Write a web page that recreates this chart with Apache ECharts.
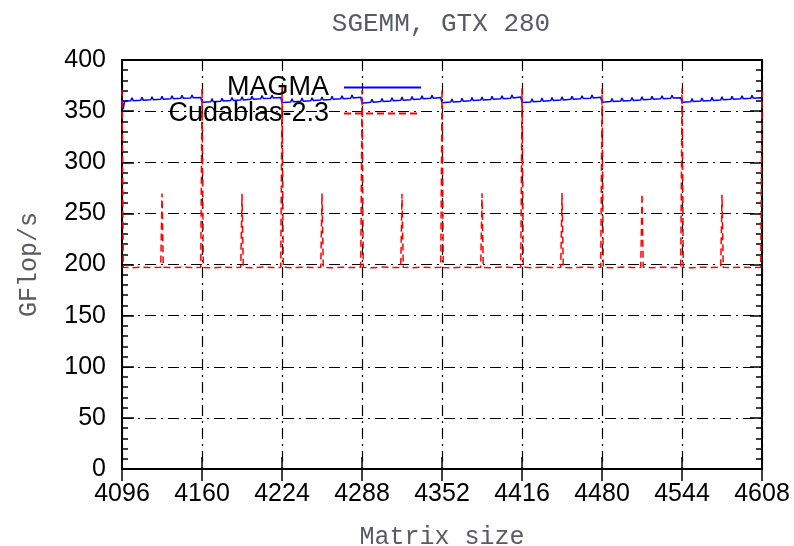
<!DOCTYPE html>
<html>
<head>
<meta charset="utf-8">
<title>SGEMM, GTX 280</title>
<script src="https://cdn.jsdelivr.net/npm/echarts@6/dist/echarts.min.js"></script>
<style>
html,body{margin:0;padding:0;background:#fff;}
#chart{width:794px;height:546px;}
</style>
</head>
<body>
<div id="chart"></div>
<script>
// 数据
var seriesNames = ['MAGMA', 'Cudablas-2.3'];
var xTicks = [4096, 4160, 4224, 4288, 4352, 4416, 4480, 4544, 4608];
var yTicks = [0, 50, 100, 150, 200, 250, 300, 350, 400];

// MAGMA: [matrix size, GFlop/s]
var magmaPts = [
	[4096,361],[4097,352],[4098,359.6],
	[4103,360.1],[4104,363.1],[4105,360.2],[4111,360.6],[4112,363.4],[4113,360.7],
	[4119,361.1],[4120,364.1],[4121,361.2],[4127,361.6],[4128,364.6],[4129,361.7],
	[4135,362.1],[4136,364.9],[4137,362.2],[4143,362.5],[4144,365.5],[4145,362.6],
	[4151,362.9],[4152,365.8],[4153,363],[4159,363.4],
	[4160,358.6],[4167,359.1],[4168,362.2],[4169,359.2],[4175,359.7],[4176,362.6],[4177,359.8],
	[4183,360.3],[4184,363.4],[4185,360.4],[4191,360.9],[4192,364],[4193,361],
	[4199,361.5],[4200,364.4],[4201,361.7],[4207,362.1],[4208,365.2],[4209,362.3],
	[4215,362.7],[4216,365.6],[4217,362.9],[4223,363.4],
	[4224,358.4],[4231,359],[4232,362.1],[4233,359.1],[4239,359.6],[4240,362.7],[4241,359.7],
	[4247,360.2],[4248,363.1],[4249,360.3],[4255,360.8],[4256,363.9],[4257,360.9],
	[4263,361.4],[4264,364.5],[4265,361.6],[4271,362],[4272,365],[4273,362.2],
	[4279,362.6],[4280,365.7],[4281,362.8],[4287,363.5],
	[4288,357.8],[4295,358.6],[4296,361.7],[4297,358.7],[4303,359.3],[4304,362.3],[4305,359.4],
	[4311,360],[4312,363],[4313,360.1],[4319,360.6],[4320,363.7],[4321,360.7],
	[4327,361.2],[4328,364.2],[4329,361.4],[4335,361.9],[4336,364.9],[4337,362],
	[4343,362.5],[4344,365.5],[4345,362.7],[4351,363.3],
	[4352,358.2],[4359,358.9],[4360,361.9],[4361,359],[4367,359.5],[4368,362.6],[4369,359.6],
	[4375,360.2],[4376,363.2],[4377,360.3],[4383,360.8],[4384,363.8],[4385,360.9],
	[4391,361.4],[4392,364.4],[4393,361.6],[4399,362],[4400,365.1],[4401,362.2],
	[4407,362.7],[4408,365.8],[4409,362.9],[4415,363.8],
	[4416,358.4],[4423,359],[4424,362],[4425,359.1],[4431,359.6],[4432,362.7],[4433,359.7],
	[4439,360.3],[4440,363.3],[4441,360.4],[4447,360.9],[4448,363.9],[4449,361],
	[4455,361.5],[4456,364.6],[4457,361.7],[4463,362.1],[4464,365.1],[4465,362.3],
	[4471,362.7],[4472,365.7],[4473,362.9],[4479,363.5],
	[4480,358.7],[4487,359.3],[4488,362.2],[4489,359.4],[4495,359.8],[4496,362.8],[4497,359.9],
	[4503,360.4],[4504,363.4],[4505,360.5],[4511,361],[4512,364],[4513,361.1],
	[4519,361.5],[4520,364.5],[4521,361.7],[4527,362.1],[4528,365],[4529,362.2],
	[4535,362.6],[4536,365.5],[4537,362.8],[4543,363.2],
	[4544,358.6],[4551,359.2],[4552,362.2],[4553,359.3],[4559,359.8],[4560,362.8],[4561,359.9],
	[4567,360.4],[4568,363.5],[4569,360.5],[4575,361],[4576,364],[4577,361.1],
	[4583,361.5],[4584,364.5],[4585,361.7],[4591,362],[4592,365],[4593,362.2],
	[4599,362.5],[4600,365.4],[4601,362.6],[4607,363],[4608,362.8]
];

// Cudablas-2.3: [matrix size, GFlop/s]
var cublasPts = [
	[4096,371],[4097,197.2],[4104,196.8],[4112,197.5],[4120,197],[4127,197.3],
	[4128,269.5],[4129,197.4],[4136,196.9],[4144,197.4],[4152,197],[4159,197.2],
	[4160,372.5],[4161,197.1],[4168,196.8],[4176,197.4],[4184,197],[4191,197.3],
	[4192,269.2],[4193,197.2],[4200,196.9],[4208,197.5],[4216,197.1],[4223,197.2],
	[4224,373],[4225,197.3],[4232,196.8],[4240,197.4],[4248,197],[4255,197.2],
	[4256,269.4],[4257,197.1],[4264,196.9],[4272,197.4],[4280,197],[4287,197.3],
	[4288,370.5],[4289,197.2],[4296,196.8],[4304,197.5],[4312,197.1],[4319,197.2],
	[4320,269.3],[4321,197.3],[4328,196.9],[4336,197.4],[4344,197],[4351,197.2],
	[4352,372],[4353,197.1],[4360,196.8],[4368,197.4],[4376,197],[4383,197.3],
	[4384,269.6],[4385,197.2],[4392,196.9],[4400,197.5],[4408,197.1],[4415,197.2],
	[4416,372.3],[4417,197.3],[4424,196.8],[4432,197.4],[4440,197],[4447,197.2],
	[4448,269.8],[4449,197.1],[4456,196.9],[4464,197.4],[4472,197],[4479,197.3],
	[4480,372],[4481,197.2],[4488,196.8],[4496,197.5],[4504,197.1],[4511,197.2],
	[4512,269.2],[4513,197.3],[4520,196.9],[4528,197.4],[4536,197],[4543,197.2],
	[4544,372.4],[4545,197.1],[4552,196.8],[4560,197.4],[4568,197],[4575,197.3],
	[4576,268.2],[4577,197.2],[4584,196.9],[4592,197.4],[4600,197],[4607,197.2],
	[4608,370]
];

var tickFont = "'Liberation Sans', Arial, sans-serif";
var monoFont = "'Liberation Mono', 'DejaVu Sans Mono', monospace";
// 点划线网格
var gridLine = {color:'#000', width:1.2, type:[11,5,2,5]};

// 图例: 文字在左, 线在右
function legendItem(name, top){
	return {
		data:[name],
		orient:'vertical',
		right:367,
		top:top,
		align:'right',
		itemWidth:77,
		itemHeight:14,
		selectedMode:false,
		itemStyle:{opacity:0},
		textStyle:{fontFamily:tickFont, fontSize:27, color:'#000', padding:[0,10,0,0]}
	};
}

var myChart = echarts.init(document.getElementById('chart'));
var option = {
	backgroundColor:'#fff',
	animation:false,
	title:{
		text:'SGEMM, GTX 280',
		left:436,
		textAlign:'center',
		top:6,
		textStyle:{fontFamily:monoFont, fontSize:26, fontWeight:'normal', color:'#595a66'}
	},
	legend:[legendItem(seriesNames[0], 69), legendItem(seriesNames[1], 95)],
	grid:{
		left:122, right:32, top:60, bottom:77,
		outerBoundsMode:'none',
		show:true, borderColor:'#000', borderWidth:2, backgroundColor:'#fff'
	},
	xAxis:[{
		type:'value',
		min:xTicks[0], max:xTicks[xTicks.length-1], interval:64,
		name:'Matrix size',
		nameLocation:'middle',
		nameGap:56,
		nameTextStyle:{fontFamily:monoFont, fontSize:25, color:'#595a66'},
		axisLine:{show:true, lineStyle:{color:'#000', width:2}},
		axisTick:{show:true, inside:true, length:12, lineStyle:{color:'#000', width:1.5}},
		axisLabel:{fontFamily:tickFont, fontSize:25, color:'#000', margin:13, hideOverlap:false,
			formatter:function(v){ return String(v); }},
		splitLine:{show:true, lineStyle:gridLine}
	},{
		type:'value', position:'top',
		min:xTicks[0], max:xTicks[xTicks.length-1], interval:64,
		axisLine:{show:true, lineStyle:{color:'#000', width:2}},
		axisTick:{show:true, inside:true, length:12, lineStyle:{color:'#000', width:1.5}},
		axisLabel:{show:false},
		splitLine:{show:false}
	}],
	yAxis:[{
		type:'value',
		min:yTicks[0], max:yTicks[yTicks.length-1], interval:50,
		name:'GFlop/s',
		nameLocation:'middle',
		nameGap:80,
		nameTextStyle:{fontFamily:monoFont, fontSize:25, color:'#595a66'},
		axisLine:{show:true, lineStyle:{color:'#000', width:2}},
		axisTick:{show:true, inside:true, length:12, lineStyle:{color:'#000', width:1.5}},
		minorTick:{show:true, splitNumber:5, length:6, lineStyle:{color:'#000', width:1.5}},
		axisLabel:{fontFamily:tickFont, fontSize:25, color:'#000', margin:16},
		splitLine:{show:true, lineStyle:gridLine}
	},{
		type:'value', position:'right',
		min:yTicks[0], max:yTicks[yTicks.length-1], interval:50,
		axisLine:{show:true, lineStyle:{color:'#000', width:2}},
		axisTick:{show:true, inside:true, length:12, lineStyle:{color:'#000', width:1.5}},
		minorTick:{show:true, splitNumber:5, length:6, lineStyle:{color:'#000', width:1.5}},
		axisLabel:{show:false},
		splitLine:{show:false}
	}],
	series:[{
		name:seriesNames[0],
		type:'line',
		symbol:'none',
		data:magmaPts,
		lineStyle:{color:'#0000ff', width:1.5},
		itemStyle:{color:'#0000ff'}
	},{
		name:seriesNames[1],
		type:'line',
		symbol:'none',
		data:cublasPts,
		lineStyle:{color:'#ff0000', width:1.5, type:[7,4]},
		itemStyle:{color:'#ff0000'}
	}]
};
myChart.setOption(option);
</script>
</body>
</html>
